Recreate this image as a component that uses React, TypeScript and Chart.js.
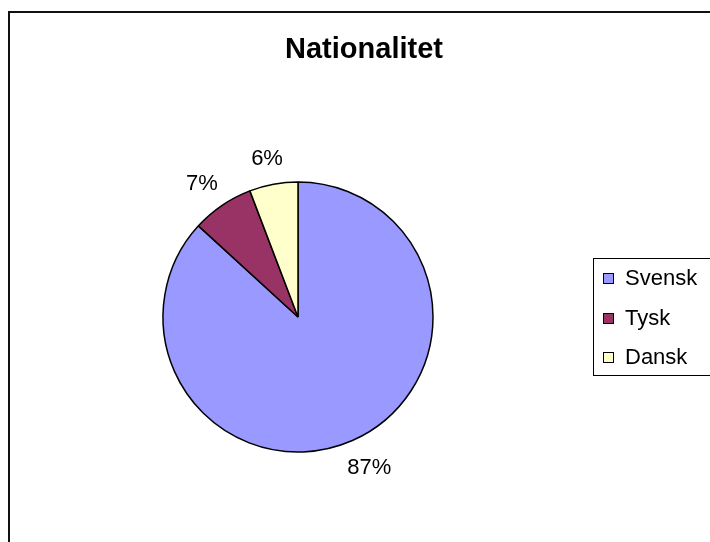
import React, { useEffect, useRef } from "react";
import { Chart, registerables } from "chart.js";

Chart.register(...registerables);

const chartTitle = "Nationalitet";
const categories = ["Svensk", "Tysk", "Dansk"];
const values = [86.8, 7.4, 5.8];
const colors = ["#9999FF", "#993366", "#FFFFCC"];

const FONT = "'Liberation Sans', Arial, sans-serif";

const decorPlugin = {
  id: "decor",
  afterDraw(chart: any) {
    const ctx = chart.ctx as CanvasRenderingContext2D;
    ctx.save();
    // outer frame (top & left visible)
    ctx.fillStyle = "#111";
    ctx.fillRect(8, 11, 710, 2);
    ctx.fillRect(8, 11, 2, 540);

    // title
    ctx.fillStyle = "#000";
    ctx.font = `bold 29px ${FONT}`;
    ctx.textAlign = "center";
    ctx.textBaseline = "alphabetic";
    ctx.fillText(chartTitle, 364, 58);

    // percentage labels (outside end, box adjacent to the arc)
    const meta = chart.getDatasetMeta(0);
    const total = values.reduce((a, b) => a + b, 0);
    ctx.font = `22px ${FONT}`;
    meta.data.forEach((arc: any, i: number) => {
      const mid = (arc.startAngle + arc.endAngle) / 2;
      const pct = Math.round((values[i] / total) * 100) + "%";
      const w = ctx.measureText(pct).width;
      const h = 16;
      const d = arc.outerRadius + 20;
      const cx = arc.x + Math.cos(mid) * d + Math.cos(mid) * (w / 2);
      const cy = arc.y + Math.sin(mid) * d + Math.sin(mid) * (h / 2);
      ctx.fillText(pct, cx, cy + 8);
    });

    // legend
    ctx.strokeStyle = "#000";
    ctx.lineWidth = 1;
    ctx.strokeRect(593.5, 258.5, 130, 117);
    const ys = [278, 318, 357];
    ctx.textAlign = "left";
    categories.forEach((c, i) => {
      ctx.fillStyle = colors[i];
      ctx.fillRect(603, ys[i] - 5, 10, 10);
      ctx.strokeStyle = "#000";
      ctx.strokeRect(603.5, ys[i] - 5 + 0.5, 10, 10);
      ctx.fillStyle = "#000";
      ctx.fillText(c, 625, ys[i] + 7);
    });
    ctx.restore();
  },
};

export default function App() {
  const ref = useRef<HTMLCanvasElement>(null);
  useEffect(() => {
    if (!ref.current) return;
    const chart = new Chart(ref.current, {
      type: "pie",
      data: {
        labels: categories,
        datasets: [
          {
            data: values,
            backgroundColor: colors,
            borderColor: "#000",
            borderWidth: 1.5,
            radius: 135,
          } as any,
        ],
      },
      options: {
        animation: false,
        responsive: false,
        maintainAspectRatio: false,
        layout: { padding: { left: 20, right: 134, top: 100, bottom: 8 } },
        plugins: {
          legend: { display: false },
          title: { display: false },
          tooltip: { enabled: false },
        },
      },
      plugins: [decorPlugin],
    });
    return () => chart.destroy();
  }, []);
  return (
    <div style={{ position: "fixed", left: 0, top: 0, width: 710, height: 542, background: "#fff" }}>
      <canvas ref={ref} width={710} height={542} style={{ width: 710, height: 542, display: "block" }} />
    </div>
  );
}
